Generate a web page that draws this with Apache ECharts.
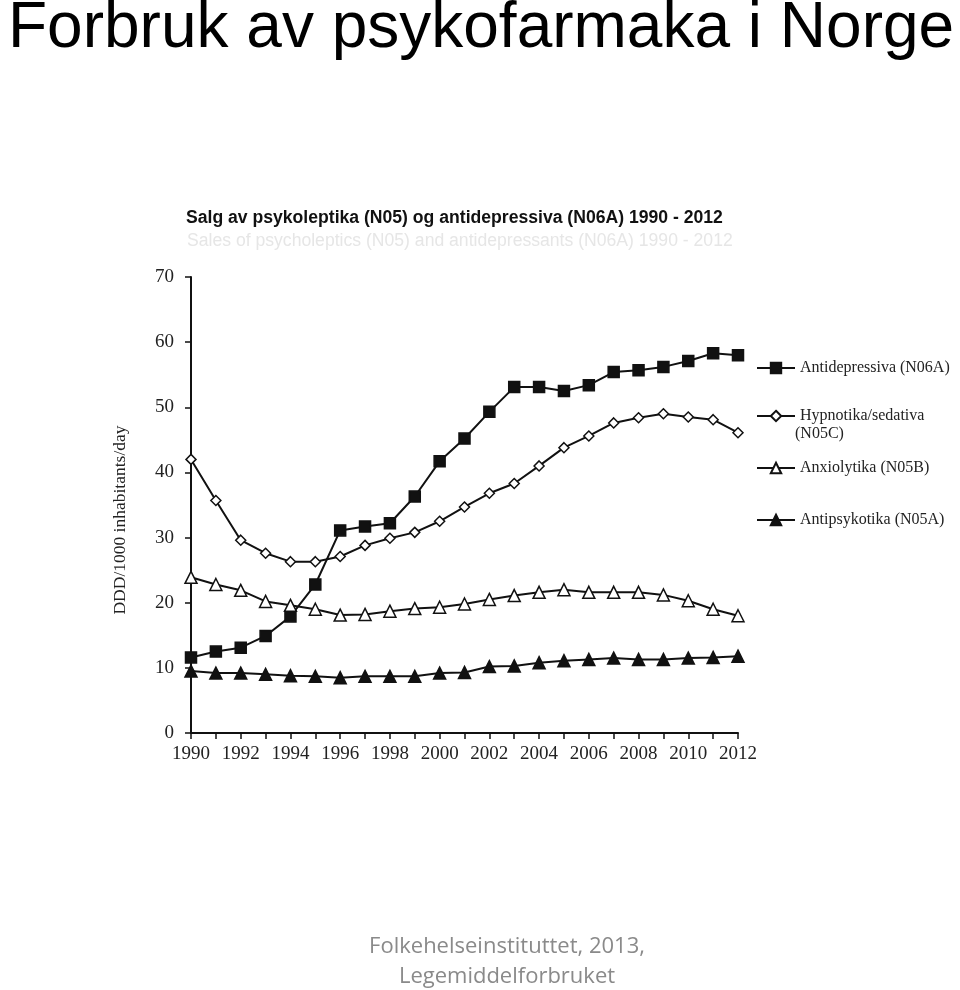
<!DOCTYPE html>
<html><head><meta charset="utf-8">
<script src="https://cdn.jsdelivr.net/npm/echarts@6/dist/echarts.min.js"></script>
<style>html,body{margin:0;padding:0;background:#fff}#c{width:960px;height:990px}</style>
</head><body><div id="c"></div>
<script>
const years = ['1990','1991','1992','1993','1994','1995','1996','1997','1998','1999','2000','2001','2002','2003','2004','2005','2006','2007','2008','2009','2010','2011','2012'];
const antidepressiva = [11.6,12.5,13.1,14.9,17.9,22.8,31.1,31.7,32.2,36.3,41.7,45.2,49.3,53.1,53.1,52.5,53.4,55.4,55.7,56.2,57.1,58.3,58.0];
const hypnotika = [42.0,35.7,29.6,27.6,26.3,26.3,27.1,28.8,29.9,30.8,32.5,34.7,36.8,38.3,41.0,43.8,45.6,47.6,48.4,49.0,48.5,48.1,46.1];
const anxiolytika = [23.9,22.8,21.9,20.2,19.6,19.0,18.1,18.2,18.7,19.1,19.3,19.8,20.5,21.1,21.6,22.0,21.6,21.6,21.6,21.2,20.3,19.0,18.0];
const antipsykotika = [9.5,9.2,9.2,9.0,8.8,8.7,8.5,8.7,8.7,8.7,9.2,9.3,10.2,10.3,10.8,11.1,11.3,11.5,11.3,11.3,11.5,11.6,11.8];
const yTicks = [0,10,20,30,40,50,60,70];

const serif = '"Liberation Serif", "DejaVu Serif", serif';
const sans = '"Liberation Sans", Arial, sans-serif';
const chart = echarts.init(document.getElementById('c'), null, {renderer:'canvas'});
const lineStyle = {color:'#111', width:2};
function ser(name, data, symbol, filled, size){
  return {name, type:'line', data, symbol, symbolSize:size, showSymbol:true,
    lineStyle, itemStyle:{color: filled?'#111':'#fff', borderColor:'#111', borderWidth:1.5},
    emphasis:{disabled:true}, animation:false};
}
const legendBase = {orient:'vertical', left:751, itemWidth:38, itemHeight:13, itemGap:6,
  textStyle:{fontFamily:serif, fontSize:16, color:'#222'}, selectedMode:false};
chart.setOption({
  animation:false,
  title:[
    {text:'Forbruk av psykofarmaka i Norge', left:3, top:-8,
     textStyle:{fontFamily:sans, fontSize:64, fontWeight:'normal', color:'#000'}},
    {text:'Salg av psykoleptika (N05) og antidepressiva (N06A) 1990 - 2012', left:181, top:204,
     textStyle:{fontFamily:sans, fontSize:17.6, fontWeight:'bold', color:'#111'}},
    {text:'Sales of psycholeptics (N05) and antidepressants (N06A) 1990 - 2012', left:182, top:227,
     textStyle:{fontFamily:sans, fontSize:17.6, fontWeight:'normal', color:'#e6e6e6'}}
  ],
  legend:[
    Object.assign({top:355, data:['Antidepressiva (N06A)']}, legendBase),
    Object.assign({top:403, data:['Hypnotika/sedativa']}, legendBase),
    Object.assign({top:455, data:['Anxiolytika (N05B)']}, legendBase),
    Object.assign({top:507, data:['Antipsykotika (N05A)']}, legendBase)
  ],
  graphic:[
    {type:'text', left:795, top:426, style:{text:'(N05C)', font:'16px '+serif, fill:'#222'}},
    {type:'text', x:120, y:520, rotation:Math.PI/2,
     style:{text:'DDD/1000 inhabitants/day', font:'17.5px '+serif, fill:'#222', align:'center', verticalAlign:'middle'}},
    {type:'text', x:507, y:947,
     style:{text:'Folkehelseinstituttet, 2013,', font:'22px "Open Sans", sans-serif', fill:'#8a8a8a', align:'center', verticalAlign:'middle'}},
    {type:'text', x:507, y:977,
     style:{text:'Legemiddelforbruket', font:'22px "Open Sans", sans-serif', fill:'#8a8a8a', align:'center', verticalAlign:'middle'}}
  ],
  grid:{left:191, right:222, top:277, bottom:257, containLabel:false},
  xAxis:{type:'category', data:years, boundaryGap:false,
    axisLine:{lineStyle:{color:'#111', width:2}},
    axisTick:{show:true, interval:0, length:6, lineStyle:{color:'#111', width:1.5}},
    axisLabel:{interval:1, fontFamily:serif, fontSize:19, color:'#222', margin:12},
    splitLine:{show:false}},
  yAxis:{type:'value', min:0, max:70, interval:10,
    axisLine:{show:true, lineStyle:{color:'#111', width:2}},
    axisTick:{show:true, length:6, inside:false, lineStyle:{color:'#111', width:1.5}},
    axisLabel:{fontFamily:serif, fontSize:19, color:'#222', margin:17,
      formatter: v => yTicks.includes(v) ? String(v) : ''},
    splitLine:{show:false}},
  series:[
    ser('Antidepressiva (N06A)', antidepressiva, 'rect', true, 11),
    ser('Hypnotika/sedativa', hypnotika, 'diamond', false, 10),
    ser('Anxiolytika (N05B)', anxiolytika, 'triangle', false, 12),
    ser('Antipsykotika (N05A)', antipsykotika, 'triangle', true, 12)
  ]
});
</script></body></html>
